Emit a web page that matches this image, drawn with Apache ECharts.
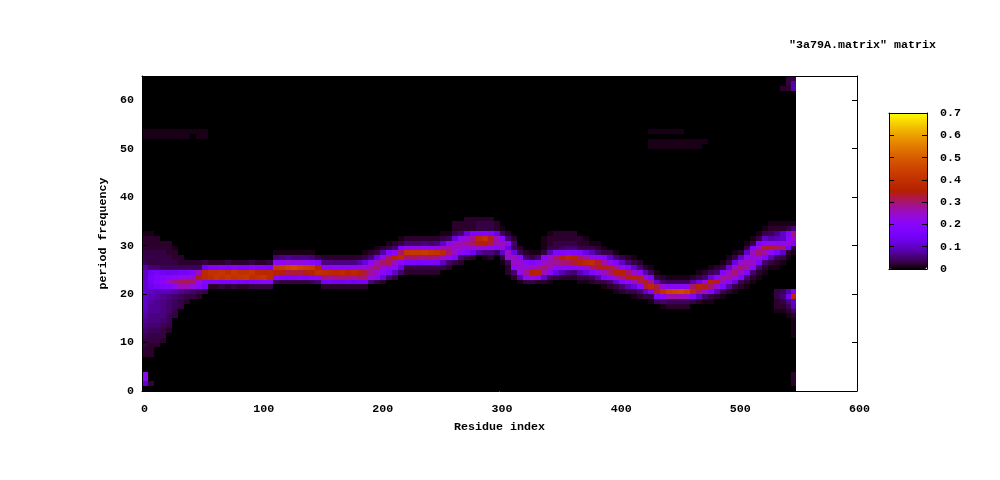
<!DOCTYPE html>
<html><head><meta charset="utf-8">
<script src="https://cdn.jsdelivr.net/npm/echarts@6/dist/echarts.min.js"></script>
<style>html,body{margin:0;background:#fff}#c{width:1000px;height:480px}</style></head>
<body><div id="c"></div>
<script>
const titleText = '"3a79A.matrix" matrix';
const xLabel = 'Residue index';
const yLabel = 'period frequency';
const residueStep = 5;
const lastResidue = 549;
const rowCount = 65;
const columnCount = 110;
// main band, one entry per column: first number = lowest row, then intensities in hundredths going up
const bandColumns = [
[7,2,2,3,3,4,5,6,7,8,9,10,10,11,11,11,11,10,10,8,4,3,3,2,2,2,1],
[7,2,2,2,3,3,4,5,6,6,7,7,8,9,10,13,15,15,14,5,3,3,3,2,2,2,1],
[9,2,3,3,4,5,6,6,7,7,7,8,9,15,18,17,15,5,3,3,3,2,2,2],
[10,2,3,3,4,5,6,6,6,6,7,9,17,20,18,14,4,3,3,3,2,2],
[12,2,3,4,4,5,5,5,6,9,18,25,19,13,4,3,3,2,2,2],
[15,3,3,4,4,5,8,21,29,20,14,4,3,2,2,1],
[17,3,3,4,7,26,31,21,15,4,2,2],
[18,2,3,6,26,32,22,15,4,2],
[19,3,5,24,30,25,17,4,2],
[19,2,4,20,24,34,26,4,2],
[20,3,16,18,38,38,14,3],
[21,2,17,39,40,18,2],
[21,2,17,41,40,18,2],
[21,3,16,40,41,19,2],
[21,2,16,42,39,18,3],
[21,3,17,40,42,19,2],
[21,2,16,41,40,18,2],
[21,2,15,42,40,17,2],
[21,3,17,39,41,19,3],
[21,3,18,40,38,18,2],
[21,3,19,41,37,18,2],
[21,3,20,38,38,16,3],
[22,4,20,36,42,20,5,1],
[22,3,18,34,43,22,6,1],
[22,3,17,32,45,24,7,1],
[22,3,18,33,46,23,6,1],
[22,3,19,32,44,23,6,1],
[22,3,18,34,43,22,6,1],
[22,4,20,36,42,20,5,1],
[22,5,22,40,36,17,3],
[21,2,14,29,39,20,6,2],
[21,2,15,28,38,20,6,2],
[21,2,14,29,37,21,6,2],
[21,2,14,30,38,20,6,2],
[21,2,15,29,36,20,6,2],
[21,2,14,28,38,21,6,2],
[21,2,15,30,36,22,8,2],
[21,2,15,30,32,24,12,3,1],
[22,6,24,28,27,20,5,2],
[22,3,20,25,30,26,12,3,1],
[22,2,12,20,25,30,22,8,2],
[23,5,17,22,32,30,17,3,1],
[23,3,10,20,26,36,20,5,2],
[24,5,12,20,38,30,17,3,1],
[24,2,3,17,30,41,22,5,2],
[24,2,3,17,31,42,22,5,2],
[24,2,3,16,30,42,23,5,2],
[24,2,3,17,29,43,22,6,2],
[24,2,3,17,30,41,22,5,2],
[24,2,3,16,29,40,23,6,2],
[25,3,10,26,38,25,10,3,1],
[25,2,5,22,30,27,20,4,1],
[26,3,17,25,25,25,12,3,2,2],
[26,2,5,20,25,27,22,5,2,2],
[27,3,18,24,28,24,12,2,2,2],
[27,2,14,25,31,28,17,2,2,2],
[28,8,24,34,38,17,3,3,2],
[27,1,6,24,35,40,18,3,3,2],
[27,2,6,22,32,34,17,3,3,2],
[28,4,20,27,26,12,2,2],
[26,1,3,10,24,26,20,4,1],
[24,2,2,4,24,25,12,20,5,2],
[23,2,5,20,25,26,12,4,5,2],
[22,1,8,22,25,24,20,4,2],
[22,3,22,28,24,20,5,2],
[22,3,24,35,26,18,3,1],
[22,2,20,36,27,20,5,1],
[22,2,10,26,30,25,20,3,1,1,1],
[22,1,4,20,26,27,25,9,3,2,2,1],
[23,3,12,22,28,30,17,3,3,2,2],
[23,2,9,20,30,34,18,4,3,2,2],
[23,2,6,20,30,37,19,5,3,2,2],
[23,2,5,20,33,36,18,5,3,2,2],
[22,1,3,9,22,36,30,17,3,2,2],
[22,1,3,12,24,38,27,12,3,2,1],
[22,2,4,18,30,39,23,9,3,1],
[22,3,8,22,34,33,20,5,2,1],
[21,1,3,17,26,34,27,18,3,1],
[21,2,5,20,30,33,22,10,3],
[20,1,3,10,25,35,28,17,5,1],
[20,2,5,18,30,35,22,10,3],
[20,3,9,22,34,30,18,5,2],
[19,1,3,12,26,36,25,10,3,1],
[19,2,5,20,32,33,20,5,2],
[19,3,10,33,34,24,9,2],
[18,1,3,17,38,28,17,4,1],
[18,4,17,33,32,10,3,1],
[17,1,5,20,40,24,5,2],
[17,2,4,26,44,20,4,1],
[17,2,4,27,45,20,4,1],
[17,2,4,26,46,20,4,1],
[17,2,4,25,44,21,4,1],
[18,3,17,38,30,8,2],
[18,2,10,30,36,12,3,1],
[18,1,5,25,34,22,5,2],
[18,1,3,18,30,36,12,4,1],
[19,2,9,24,34,20,5,2],
[19,1,4,17,26,27,18,3,1],
[20,2,8,20,28,25,12,3,1],
[20,1,3,12,24,30,25,12,3,1],
[21,2,4,17,25,30,24,10,2],
[21,1,2,5,18,28,26,22,10,3,1],
[22,1,2,5,20,25,24,25,18,3,1],
[23,1,2,5,17,24,30,24,17,3,1],
[24,1,2,5,18,27,33,20,10,3,1],
[25,1,3,9,22,33,20,8,4,2,1],
[25,1,2,4,16,32,20,9,6,2,1],
[26,1,3,10,30,22,10,10,2,1],
[27,1,2,16,24,20,18,3,1],
[28,1,3,18,25,30,6,1]
];
// separate patch at the right end: column, lowest row, intensities in hundredths
const endBlob = [
[106,16,1,2,2,3,3],
[107,16,1,2,3,5,4],
[108,15,1,2,4,6,14,8],
[109,15,2,4,9,10,38,16]
];
// faint rectangles: first column, last column, first row, last row, intensity in hundredths
const faintPatches = [
[0,10,53,53,1],[0,7,52,52,1],[9,10,52,52,1],
[85,90,53,53,1],[85,94,51,51,1],[85,93,50,50,1],
[107,109,62,62,2],[108,109,63,64,3],[109,109,62,63,8],
[0,0,2,3,21],[0,0,1,1,10],[1,1,1,1,3],
[109,109,1,3,2],[109,109,11,14,1]
];
const xTicks = {min:0,max:600,interval:100};
const yTicks = {min:0,max:65,interval:10};
const barTicks = {min:0,max:0.7,interval:0.1};

const matrix = [];
for (let c=0;c<columnCount;c++){ matrix.push(new Array(rowCount).fill(0)); }
function put(c,r,v){ if(c<columnCount&&r<rowCount) matrix[c][r]=Math.max(matrix[c][r],v/100); }
bandColumns.forEach((col,c)=>{ col.slice(1).forEach((v,i)=>put(c,col[0]+i,v)); });
endBlob.forEach(e=>{ e.slice(2).forEach((v,i)=>put(e[0],e[1]+i,v)); });
faintPatches.forEach(p=>{ for(let c=p[0];c<=p[1];c++) for(let r=p[2];r<=p[3];r++) put(c,r,p[4]); });
const cells=[];
matrix.forEach((col,c)=>col.forEach((v,r)=>cells.push([c*residueStep,r,v])));

// gnuplot default pm3d palette (rgbformulae 7,5,15)
const palette=[];
for(let i=0;i<=48;i++){const t=i/48;
  const R=Math.round(255*Math.sqrt(t)),G=Math.round(255*t*t*t),B=Math.round(255*Math.max(0,Math.sin(2*Math.PI*t)));
  palette.push('rgb('+R+','+G+','+B+')');}

const font={fontFamily:'"Liberation Mono"',fontWeight:'bold',fontSize:11.67,color:'#000'};
const line={show:true,onZero:false,lineStyle:{color:'#000',width:1}};
const tick={show:true,inside:true,length:5,lineStyle:{color:'#000',width:1}};
const chart=echarts.init(document.getElementById('c'),null,{renderer:'canvas'});
chart.setOption({
  animation:false,backgroundColor:'#fff',
  title:{text:titleText,left:789,top:39,padding:0,textStyle:Object.assign({},font)},
  grid:[{left:142,top:76,width:715,height:315,containLabel:false},
        {left:889,top:113,width:38,height:156,containLabel:false}],
  xAxis:[
    Object.assign({type:'value',gridIndex:0,position:'bottom',z:10,name:xLabel,nameLocation:'middle',nameGap:30,nameTextStyle:font,
      axisLine:line,axisTick:tick,axisLabel:Object.assign({margin:12,padding:[0,0,0,5]},font),splitLine:{show:false}},xTicks),
    Object.assign({type:'value',gridIndex:0,position:'top',z:10,axisLine:line,axisTick:tick,axisLabel:{show:false},splitLine:{show:false}},xTicks),
    {type:'value',gridIndex:1,position:'bottom',min:0,max:1,z:10,axisLine:line,axisTick:{show:false},axisLabel:{show:false},splitLine:{show:false}},
    {type:'value',gridIndex:1,position:'top',min:0,max:1,z:10,axisLine:line,axisTick:{show:false},axisLabel:{show:false},splitLine:{show:false}}
  ],
  yAxis:[
    Object.assign({type:'value',gridIndex:0,position:'left',z:10,name:yLabel,nameLocation:'middle',nameGap:19,nameRotate:90,nameTextStyle:font,
      axisLine:line,axisTick:tick,axisLabel:Object.assign({margin:8,showMaxLabel:false,padding:[6,0,0,0]},font),splitLine:{show:false}},yTicks),
    Object.assign({type:'value',gridIndex:0,position:'right',z:10,axisLine:line,axisTick:tick,axisLabel:{show:false},splitLine:{show:false}},yTicks),
    Object.assign({type:'value',gridIndex:1,position:'left',z:10,axisLine:line,axisTick:tick,axisLabel:{show:false},splitLine:{show:false}},barTicks),
    Object.assign({type:'value',gridIndex:1,position:'right',z:10,axisLine:line,axisTick:tick,axisLabel:Object.assign({margin:13,padding:[7,0,0,0]},font),splitLine:{show:false}},barTicks)
  ],
  visualMap:{type:'continuous',min:0,max:0.7,seriesIndex:0,dimension:2,show:true,left:889,top:113,padding:0,
    itemWidth:38,itemHeight:156,calculable:false,realtime:false,hoverLink:false,text:null,showLabel:false,inRange:{color:palette},textStyle:{color:'rgba(0,0,0,0)',fontSize:1}},
  series:[{type:'custom',xAxisIndex:0,yAxisIndex:0,data:cells,encode:{x:0,y:1},silent:true,progressive:0,z:2,
    renderItem:function(params,api){
      const x0=api.value(0),r=api.value(1);
      const a=api.coord([x0,r+1]),b=api.coord([Math.min(x0+residueStep,lastResidue),r]);
      const X=Math.round(a[0]),Y=Math.round(a[1]);
      return {type:'rect',shape:{x:X,y:Y,width:Math.round(b[0])-X,height:Math.round(b[1])-Y},style:{fill:api.visual('color')}};
    }}]
});
</script></body></html>
